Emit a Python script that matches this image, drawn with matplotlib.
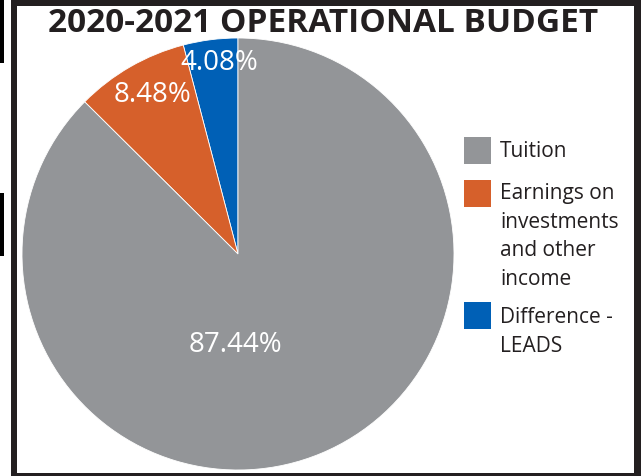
import matplotlib
matplotlib.use("Agg")
import matplotlib.pyplot as plt
from matplotlib.patches import Rectangle

# ---- data ----
title = "2020-2021 OPERATIONAL BUDGET"
categories = ["Tuition", "Earnings on\ninvestments\nand other\nincome", "Difference -\nLEADS"]
values = [87.44, 8.48, 4.08]
pct_labels = ["87.44%", "8.48%", "4.08%"]
colors = ["#939598", "#D6602B", "#0060B6"]

W, H = 641, 476
DPI = 100
fig = plt.figure(figsize=(W / DPI, H / DPI), dpi=DPI)
fig.patch.set_facecolor("white")
plt.rcParams['font.family'] = ['Open Sans', 'DejaVu Sans']

def fx(px):
    return px / W

def fy(py):
    return 1 - py / H

dark = "#231F20"

# frame
def rect_px(x0, y0, x1, y1, color):
    fig.patches.append(Rectangle((fx(x0), fy(y1)), fx(x1) - fx(x0), fy(y0) - fy(y1),
                                 transform=fig.transFigure, color=color, lw=0, zorder=5))

rect_px(11, 0, 17, 476, dark)      # left
rect_px(11, 0, 641, 6, dark)       # top
rect_px(634, 0, 641, 476, dark)    # right
rect_px(11, 473, 641, 476, dark)   # bottom
rect_px(0, 0, 3.5, 63, "black")
rect_px(0, 193, 3.5, 256, "black")

# pie axes: center (238,254), radius 216 px
cx, cy, R = 238, 254, 216
ax = fig.add_axes([fx(cx - R), fy(cy + R), 2 * R / W, 2 * R / H])
# draw counterclockwise from top: Difference, Earnings, Tuition
order = [2, 1, 0]
ax.pie([values[i] for i in order], colors=[colors[i] for i in order],
       startangle=90, counterclock=True, radius=1,
       wedgeprops=dict(edgecolor="white", linewidth=0.6))
ax.set_xlim(-1, 1)
ax.set_ylim(-1, 1)
ax.set_aspect("equal")
ax.axis("off")

label_pos = {0: (-0.014, -0.421), 1: (-0.394, 0.736), 2: (-0.088, 0.884)}
for i, (lx, ly) in label_pos.items():
    ax.text(lx, ly, pct_labels[i], color="white", fontsize=20,
            ha="center", va="center")

# title
fig.text(fx(323), fy(23.5), title, fontsize=24, fontweight="bold", color=dark,
         ha="center", va="center")

# legend
sq_tops = [137, 180, 302]
last_baselines = [157, 285, 352]
for i in range(3):
    fig.patches.append(Rectangle((fx(464), fy(sq_tops[i] + 26.5)), 27 / W, 26.5 / H,
                                 transform=fig.transFigure, color=colors[i], lw=0))
    fig.text(fx(500), fy(last_baselines[i]), categories[i], fontsize=15, color=dark,
             ha="left", va="baseline", linespacing=1.47)

fig.savefig("out.png", dpi=DPI)
